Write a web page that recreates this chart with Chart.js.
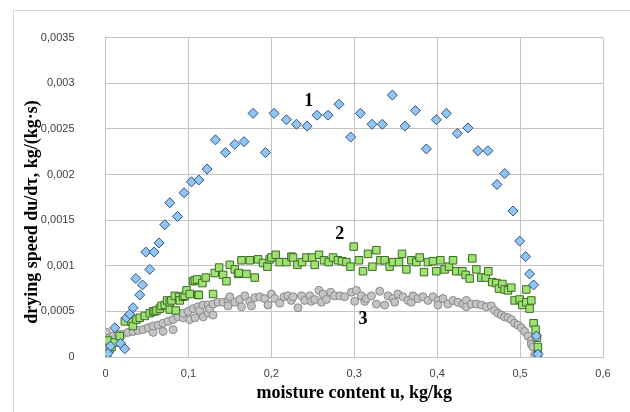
<!DOCTYPE html>
<html>
<head>
<meta charset="utf-8">
<title>Drying speed vs moisture content</title>
<script src="https://cdn.jsdelivr.net/npm/chart.js@4/dist/chart.umd.min.js"></script>
<style>
  html, body { margin: 0; padding: 0; background: #ffffff; }
  #wrap { width: 630px; height: 412px; }
</style>
</head>
<body>
<div id="wrap"><canvas id="c" width="630" height="412"></canvas></div>
<script>
// Curve 1: moisture content u (kg/kg) and drying speed (kg/(kg·s))
const curve1U = [0.003, 0.006, 0.0112, 0.018, 0.0233, 0.0253, 0.0293, 0.0333, 0.0365, 0.0413,
  0.0446, 0.0486, 0.0534, 0.0586, 0.0646, 0.0715, 0.0775, 0.0868, 0.0948, 0.1037,
  0.1125, 0.1225, 0.1326, 0.1447, 0.1559, 0.1671, 0.178, 0.1929, 0.2033, 0.2182,
  0.2303, 0.2431, 0.2551, 0.2684, 0.2816, 0.2957, 0.3074, 0.3214, 0.3339, 0.346,
  0.3612, 0.3737, 0.387, 0.399, 0.4111, 0.4243, 0.4371, 0.4492, 0.4612, 0.4721,
  0.4814, 0.4914, 0.4995, 0.5067, 0.5115, 0.5163, 0.5196, 0.5215];
const curve1Rate = [0.00004, 0.00012, 0.00032, 0.00015, 0.00009, 0.00043, 0.00047, 0.00054, 0.00086, 0.00068,
  0.00079, 0.00115, 0.00096, 0.00115, 0.00125, 0.00145, 0.00169, 0.00154, 0.0018, 0.00192,
  0.00194, 0.00206, 0.00238, 0.00224, 0.00233, 0.00236, 0.00267, 0.00224, 0.00267, 0.0026,
  0.00255, 0.00253, 0.00265, 0.00265, 0.00277, 0.00241, 0.00267, 0.00255, 0.00255, 0.00287,
  0.00253, 0.0027, 0.00228, 0.0026, 0.00267, 0.00245, 0.00251, 0.00226, 0.00226, 0.00189,
  0.00201, 0.0016, 0.00127, 0.0011, 0.00091, 0.00079, 0.00023, 0.00003];

// Curve 2
const curve2U = [0.002, 0.003, 0.005, 0.0072, 0.011, 0.0172, 0.0233, 0.0313, 0.033, 0.0374,
  0.0413, 0.0474, 0.0534, 0.0574, 0.0594, 0.0615, 0.0655, 0.0675, 0.0715, 0.0743,
  0.0775, 0.0775, 0.0796, 0.0836, 0.0848, 0.0887, 0.0896, 0.0936, 0.0956, 0.0977,
  0.1016, 0.1056, 0.1077, 0.1104, 0.1116, 0.1125, 0.1169, 0.1209, 0.1297, 0.1318,
  0.137, 0.1418, 0.1459, 0.1499, 0.1559, 0.1599, 0.1607, 0.164, 0.17, 0.174,
  0.18, 0.184, 0.19, 0.1953, 0.198, 0.2001, 0.2053, 0.2101, 0.2182, 0.2242,
  0.2262, 0.2315, 0.237, 0.2423, 0.2491, 0.2523, 0.2575, 0.2635, 0.2692, 0.2744,
  0.2804, 0.2852, 0.2905, 0.2954, 0.2993, 0.3057, 0.3106, 0.3166, 0.3219, 0.3267,
  0.3315, 0.3367, 0.3427, 0.3467, 0.354, 0.3576, 0.3629, 0.3689, 0.3749, 0.3789,
  0.3841, 0.3889, 0.3949, 0.399, 0.4039, 0.409, 0.4142, 0.4191, 0.4231, 0.4304,
  0.4344, 0.4392, 0.4424, 0.4473, 0.4533, 0.4585, 0.4617, 0.4665, 0.4714, 0.4745,
  0.4786, 0.4814, 0.4854, 0.4894, 0.4934, 0.4995, 0.5027, 0.5075, 0.5075, 0.5115,
  0.5136, 0.5163, 0.5187, 0.5203, 0.5215, 0.5215];
const curve2Rate = [0.00004, 0.00018, 0.00009, 0.00011, 0.00016, 0.00023, 0.00039, 0.00039, 0.00034, 0.00041,
  0.00043, 0.00045, 0.00048, 0.0005, 0.0005, 0.00051, 0.00053, 0.00056, 0.00057, 0.00062,
  0.00052, 0.0006, 0.00062, 0.00067, 0.00051, 0.00066, 0.00062, 0.00066, 0.00067, 0.00073,
  0.00069, 0.00083, 0.00084, 0.00085, 0.00068, 0.00068, 0.00081, 0.00087, 0.00069, 0.00092,
  0.00098, 0.0009, 0.00083, 0.00101, 0.00096, 0.00091, 0.00092, 0.00106, 0.00091, 0.00106,
  0.00087, 0.00107, 0.00103, 0.00099, 0.00107, 0.00109, 0.00112, 0.00104, 0.00104, 0.0011,
  0.00109, 0.00101, 0.00104, 0.00109, 0.00109, 0.00101, 0.00112, 0.00106, 0.00104, 0.00109,
  0.00106, 0.00105, 0.00104, 0.00099, 0.00121, 0.00106, 0.00094, 0.00113, 0.00099, 0.00117,
  0.00106, 0.00106, 0.00099, 0.00104, 0.00104, 0.00113, 0.00096, 0.00106, 0.00104, 0.00109,
  0.00093, 0.00104, 0.00105, 0.00094, 0.00106, 0.00096, 0.00099, 0.00106, 0.00094, 0.00094,
  0.0009, 0.00086, 0.00108, 0.00096, 0.00087, 0.00087, 0.00094, 0.00082, 0.00081, 0.00075,
  0.0008, 0.00074, 0.00073, 0.00076, 0.00062, 0.00063, 0.00057, 0.00074, 0.0006, 0.00053,
  0.00062, 0.00037, 0.0003, 0.00021, 0.00011, 0.00002];

// Curve 3
const curve3U = [0.0012, 0.0012, 0.003, 0.0052, 0.0092, 0.0152, 0.0212, 0.0272, 0.0333, 0.0393,
  0.0453, 0.0514, 0.0574, 0.0574, 0.0634, 0.0694, 0.0694, 0.0755, 0.0815, 0.0815,
  0.0875, 0.0935, 0.0935, 0.0996, 0.1016, 0.1056, 0.108, 0.1116, 0.1136, 0.1177,
  0.118, 0.1237, 0.1237, 0.1257, 0.1297, 0.1297, 0.1357, 0.1418, 0.1478, 0.1478,
  0.1499, 0.1559, 0.1619, 0.164, 0.168, 0.174, 0.176, 0.18, 0.186, 0.192,
  0.196, 0.2001, 0.2041, 0.2101, 0.2153, 0.2201, 0.2242, 0.2262, 0.2322, 0.2363,
  0.2403, 0.2463, 0.2483, 0.2523, 0.2575, 0.2604, 0.2623, 0.2664, 0.2716, 0.2764,
  0.2825, 0.2885, 0.2966, 0.3005, 0.3026, 0.3086, 0.3126, 0.3146, 0.3207, 0.3267,
  0.3307, 0.3367, 0.3407, 0.3467, 0.3488, 0.3527, 0.3588, 0.3648, 0.3689, 0.3708,
  0.3768, 0.3829, 0.3889, 0.3949, 0.401, 0.401, 0.407, 0.413, 0.419, 0.4251,
  0.4311, 0.4352, 0.4352, 0.4412, 0.4473, 0.4533, 0.4593, 0.4653, 0.4693, 0.4733,
  0.4774, 0.4814, 0.4854, 0.4895, 0.4934, 0.4974, 0.5015, 0.5055, 0.5095, 0.5136,
  0.5136, 0.5155, 0.5176];
const curve3Rate = [0.00011, 0.00027, 0.00018, 0.00021, 0.00023, 0.00025, 0.00025, 0.00027, 0.00028, 0.00029,
  0.0003, 0.00032, 0.00027, 0.00034, 0.00035, 0.00028, 0.00037, 0.00039, 0.0003, 0.00041,
  0.00044, 0.00043, 0.00048, 0.0005, 0.00041, 0.00053, 0.00043, 0.00055, 0.00051, 0.00057,
  0.00044, 0.00048, 0.00057, 0.00053, 0.00058, 0.00046, 0.0006, 0.0006, 0.00062, 0.00056,
  0.00066, 0.0006, 0.00063, 0.00055, 0.00067, 0.00061, 0.00056, 0.00065, 0.00066, 0.00064,
  0.00057, 0.00069, 0.00064, 0.00059, 0.00066, 0.00067, 0.00062, 0.00066, 0.00054, 0.00067,
  0.00062, 0.00067, 0.00061, 0.00063, 0.00073, 0.0006, 0.00069, 0.00063, 0.00071, 0.00067,
  0.00067, 0.00066, 0.00071, 0.00061, 0.00073, 0.00067, 0.00061, 0.00064, 0.00067, 0.00058,
  0.00072, 0.00057, 0.00067, 0.00064, 0.0006, 0.00069, 0.00066, 0.00062, 0.0006, 0.00067,
  0.00064, 0.00066, 0.00062, 0.00066, 0.00062, 0.00057, 0.00064, 0.00058, 0.00062, 0.0006,
  0.00058, 0.00062, 0.00055, 0.00058, 0.00058, 0.00057, 0.00055, 0.00056, 0.00051, 0.00048,
  0.00046, 0.00044, 0.00043, 0.00041, 0.00037, 0.00035, 0.00032, 0.00028, 0.00023, 0.00018,
  0.00014, 0.00011, 0.00002];

// Curve numbers placed next to their point clouds (data coordinates)
const curveNames = ['1', '2', '3'];
const curveNameU = [0.2451, 0.2825, 0.3105];
const curveNameRate = [0.002806, 0.001339, 0.000414];

// Axis ticks
const uTicks = [0, 0.1, 0.2, 0.3, 0.4, 0.5, 0.6];
const rateTicks = [0, 0.0005, 0.001, 0.0015, 0.002, 0.0025, 0.003, 0.0035];

const xTitle = 'moisture content u, kg/kg';
const yTitle = 'drying speed du/dτ, kg/(kg·s)';

function toPoints(us, rates) {
  return us.map((u, i) => ({ x: u, y: rates[i] }));
}

function commaNumber(v) {
  const r = Math.round(v * 100000) / 100000;
  return String(r).replace('.', ',');
}

const serifBold = 'bold 18px "Liberation Serif", "Times New Roman", serif';

const decor = {
  id: 'decor',
  beforeDraw(chart) {
    const ctx = chart.ctx;
    ctx.save();
    ctx.fillStyle = '#ffffff';
    ctx.fillRect(0, 0, chart.width, chart.height);
    ctx.strokeStyle = '#d9d9d9';
    ctx.lineWidth = 1;
    ctx.strokeRect(13.5, 10.5, 800, 600);
    ctx.restore();
  },
  afterDatasetsDraw(chart) {
    const ctx = chart.ctx;
    const xs = chart.scales.x, ys = chart.scales.y;
    ctx.save();
    ctx.fillStyle = '#000000';
    ctx.font = serifBold;
    ctx.textAlign = 'center';
    ctx.textBaseline = 'middle';
    curveNames.forEach((n, i) => {
      ctx.fillText(n, xs.getPixelForValue(curveNameU[i]), ys.getPixelForValue(curveNameRate[i]));
    });
    // vertical axis title
    ctx.translate(32, 212);
    ctx.rotate(-Math.PI / 2);
    ctx.fillText(yTitle, 0, 0);
    ctx.restore();
  }
};

const gridColor = '#c4c4c4';
const tickFont = { family: '"Liberation Sans", Arial, sans-serif', size: 11 };

new Chart(document.getElementById('c'), {
  type: 'scatter',
  data: {
    datasets: [
      {
        label: '1',
        data: toPoints(curve1U, curve1Rate),
        pointStyle: 'rectRot',
        pointRadius: 5,
        pointHoverRadius: 5,
        backgroundColor: '#92C6F2',
        borderColor: '#2F4F86',
        borderWidth: 1
      },
      {
        label: '2',
        data: toPoints(curve2U, curve2Rate),
        pointStyle: 'rect',
        pointRadius: 5.3,
        pointHoverRadius: 5.3,
        backgroundColor: '#9EE274',
        borderColor: '#3D6B25',
        borderWidth: 1
      },
      {
        label: '3',
        data: toPoints(curve3U, curve3Rate),
        pointStyle: 'circle',
        pointRadius: 4,
        pointHoverRadius: 4,
        backgroundColor: '#C4C4C4',
        borderColor: '#8A8A8A',
        borderWidth: 1
      }
    ]
  },
  options: {
    responsive: false,
    animation: false,
    devicePixelRatio: 1,
    layout: { padding: { top: 27, right: 27, bottom: 0, left: 0 } },
    plugins: {
      legend: { display: false },
      tooltip: { enabled: false }
    },
    scales: {
      x: {
        type: 'linear',
        min: uTicks[0],
        max: uTicks[uTicks.length - 1],
        afterBuildTicks(scale) { scale.ticks = uTicks.map(v => ({ value: v })); },
        afterFit(scale) { scale.height = 55; },
        grid: { color: gridColor, lineWidth: 1, drawTicks: false },
        border: { display: true, color: gridColor, width: 1 },
        ticks: {
          padding: 10,
          color: '#404040',
          font: tickFont,
          maxRotation: 0,
          callback: v => commaNumber(v)
        },
        title: {
          display: true,
          text: xTitle,
          color: '#000000',
          font: { family: '"Liberation Serif", "Times New Roman", serif', size: 18, weight: 'bold' },
          padding: { top: 0, bottom: 8 }
        }
      },
      y: {
        type: 'linear',
        min: rateTicks[0],
        max: rateTicks[rateTicks.length - 1],
        afterBuildTicks(scale) { scale.ticks = rateTicks.map(v => ({ value: v })); },
        afterFit(scale) { scale.width = 105.5; },
        grid: { color: gridColor, lineWidth: 1, drawTicks: false },
        border: { display: true, color: gridColor, width: 1 },
        ticks: {
          padding: 31,
          color: '#404040',
          font: tickFont,
          callback: v => commaNumber(v)
        }
      }
    }
  },
  plugins: [decor]
});
</script>
</body>
</html>
